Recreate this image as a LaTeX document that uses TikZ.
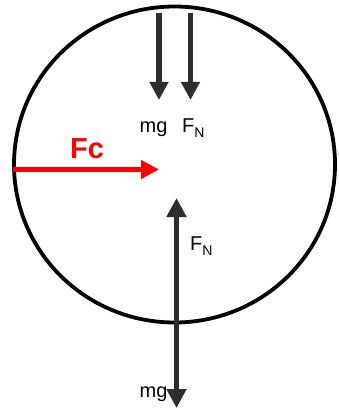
\documentclass[tikz,border=0pt]{standalone}
\usepackage{fontspec}
\setmainfont{Liberation Sans}
\usetikzlibrary{arrows.meta}
\definecolor{forcegray}{HTML}{2E2E2E}
\tikzset{
  force/.style={draw=forcegray, line width=5.5pt, -{Triangle[length=18pt,width=18pt]}},
  label/.style={inner sep=0pt, font=\fontsize{20}{23}\selectfont}
}
\newcommand{\FN}{F\raisebox{-5pt}{\fontsize{14}{14}\selectfont N}}
\begin{document}
\begin{tikzpicture}[x=1pt, y=-1pt]
\useasboundingbox (0,0) rectangle (338,409);
\draw[line width=3.8pt] (174.5,164.5) ellipse [x radius=160.5, y radius=158];
\coordinate (wtop) at (159,13);
\coordinate (wtip) at (159,100);
\coordinate (ntop) at (190.5,13);
\coordinate (ntip) at (190.5,100);
\coordinate (nup) at (176.5,198);
\coordinate (wdown) at (176.5,408);
\coordinate (rim) at (13,169.5);
\coordinate (mid) at (159,169.5);
\draw[force] (wtop) -- (wtip);
\draw[force] (ntop) -- (ntip);
\draw[force, {Triangle[length=19pt,width=19pt]}-{Triangle[length=19pt,width=19pt]}] (nup) -- (wdown);
\draw[red, line width=5pt, -{Triangle[length=18pt,width=18pt]}] (rim) -- (mid);
\node[label, anchor=base] (mg1) at (153.5,132) {mg};
\node[label, anchor=base west] (fn1) at (182,132) {\FN};
\node[label, anchor=base west] (fn2) at (190,250) {\FN};
\node[label, anchor=base] (mg2) at (153.5,397) {mg};
\node[inner sep=0pt, anchor=base west, text=red, font=\fontsize{29}{33}\selectfont\bfseries] (fc) at (70,158) {Fc};
\end{tikzpicture}
\end{document}
